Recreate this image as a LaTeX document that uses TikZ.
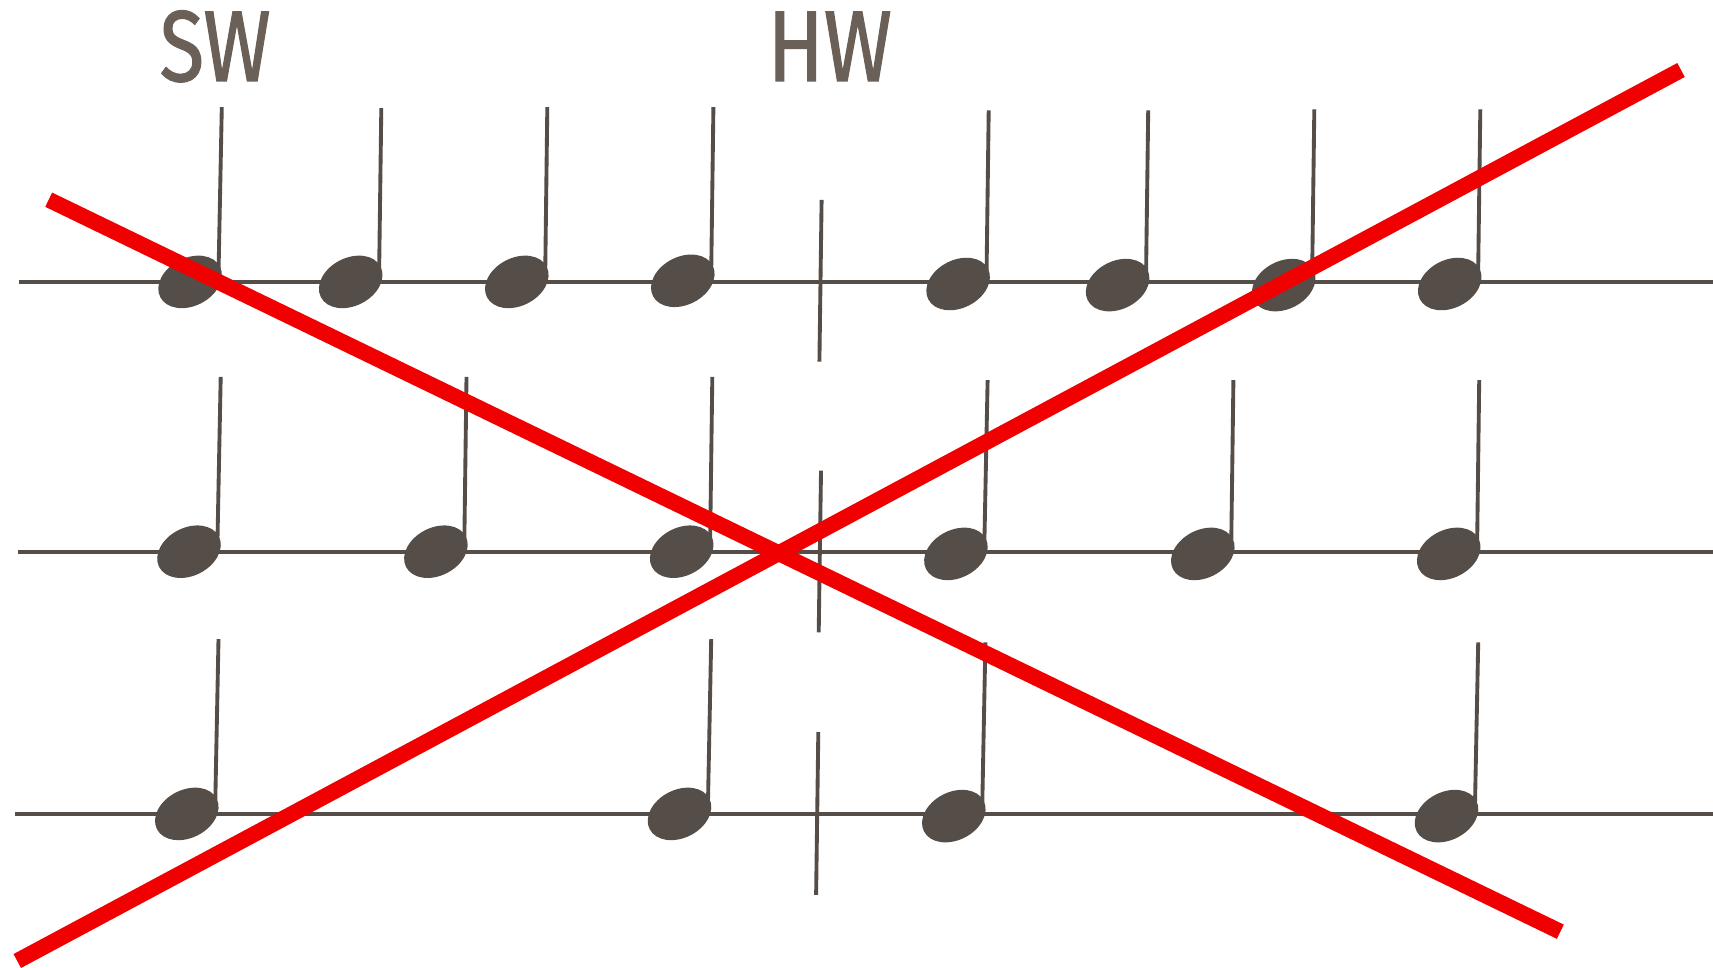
\documentclass[tikz,border=0pt]{standalone}
\usepackage{fontspec}
\usepackage{graphicx}
\setmainfont{Fira Sans}
\newfontfamily\lblfont[FakeBold=1.3]{Fira Sans}
\usetikzlibrary{shapes.geometric}
\definecolor{ink}{RGB}{85,78,72}
\definecolor{txt}{RGB}{106,96,87}
\definecolor{xred}{RGB}{240,0,0}
\newcommand\mynote[5]{%
  \node[head] (#1) at (#2,#3) {};
  \coordinate (#1t) at (#4,#5);
  \draw[stem] ([shift={(28.4,-8)}]#1.center) -- (#1t);}
\begin{document}
\begin{tikzpicture}[x=0.01cm,y=-0.01cm,
  staff/.style={draw=ink,line width=1.15pt},
  stem/.style={draw=ink,line width=1.1pt},
  head/.style={ellipse,fill=ink,minimum width=0.67cm,minimum height=0.48cm,inner sep=0pt,rotate=27},
  cross/.style={draw=xred,line width=4.5pt},
  lbl/.style={text=txt,font=\lblfont\fontsize{28.6pt}{30pt}\selectfont,inner sep=0pt,anchor=base west}]
\useasboundingbox[fill=white] (0,0) rectangle (1713,967);
% labels
\node[lbl] (sw) at (159,81) {\scalebox{0.81}[1]{SW}};
\node[lbl] (hw) at (767,81) {\scalebox{0.82}[1]{HW}};
% staff lines
\coordinate (s1a) at (18.6,282);  \coordinate (s1b) at (1713,282);
\coordinate (s2a) at (17.5,552);  \coordinate (s2b) at (1713,552);
\coordinate (s3a) at (15.3,814);  \coordinate (s3b) at (1713,814);
\draw[staff] (s1a) -- (s1b);
\draw[staff] (s2a) -- (s2b);
\draw[staff] (s3a) -- (s3b);
% bar lines
\coordinate (b1a) at (821.6,199.9); \coordinate (b1b) at (819.4,361.6);
\coordinate (b2a) at (821,470.7);   \coordinate (b2b) at (818.7,632.3);
\coordinate (b3a) at (818.3,732);   \coordinate (b3b) at (816.1,894.8);
\draw[stem] (b1a) -- (b1b);
\draw[stem] (b2a) -- (b2b);
\draw[stem] (b3a) -- (b3b);
% row 1
\mynote{n11}{190.1}{281.9}{221.8}{107.1}
\mynote{n12}{350.7}{281.9}{381.3}{108.2}
\mynote{n13}{516.8}{281.9}{547.3}{107.1}
\mynote{n14}{682.8}{280.8}{713.4}{107.1}
\mynote{n15}{958.1}{284}{988.7}{110.3}
\mynote{n16}{1117.6}{285.1}{1148.2}{110.3}
\mynote{n17}{1283.7}{285.1}{1314.3}{109.3}
\mynote{n18}{1449.7}{284}{1480.3}{109.3}
% row 2
\mynote{n21}{189}{551.7}{220.7}{376.9}
\mynote{n22}{435.9}{551.7}{466.5}{376.9}
\mynote{n23}{681.7}{551.7}{712.3}{376.9}
\mynote{n24}{955.9}{553.9}{987.6}{380.2}
\mynote{n25}{1202.8}{553.9}{1233.4}{380.2}
\mynote{n26}{1448.7}{553.9}{1479.2}{380.2}
% row 3
\mynote{n31}{186.8}{813.9}{218.5}{639.1}
\mynote{n32}{679.5}{813.9}{711.2}{639.1}
\mynote{n33}{953.8}{816.1}{985.4}{642.4}
\mynote{n34}{1446.5}{816.1}{1478.2}{642.4}
% red cross
\coordinate (ra1) at (48.7,199.7); \coordinate (ra2) at (1560.3,931.7);
\coordinate (rb1) at (17.3,961);   \coordinate (rb2) at (1681,70);
\draw[cross] (ra1) -- (ra2);
\draw[cross] (rb1) -- (rb2);
\end{tikzpicture}
\end{document}
